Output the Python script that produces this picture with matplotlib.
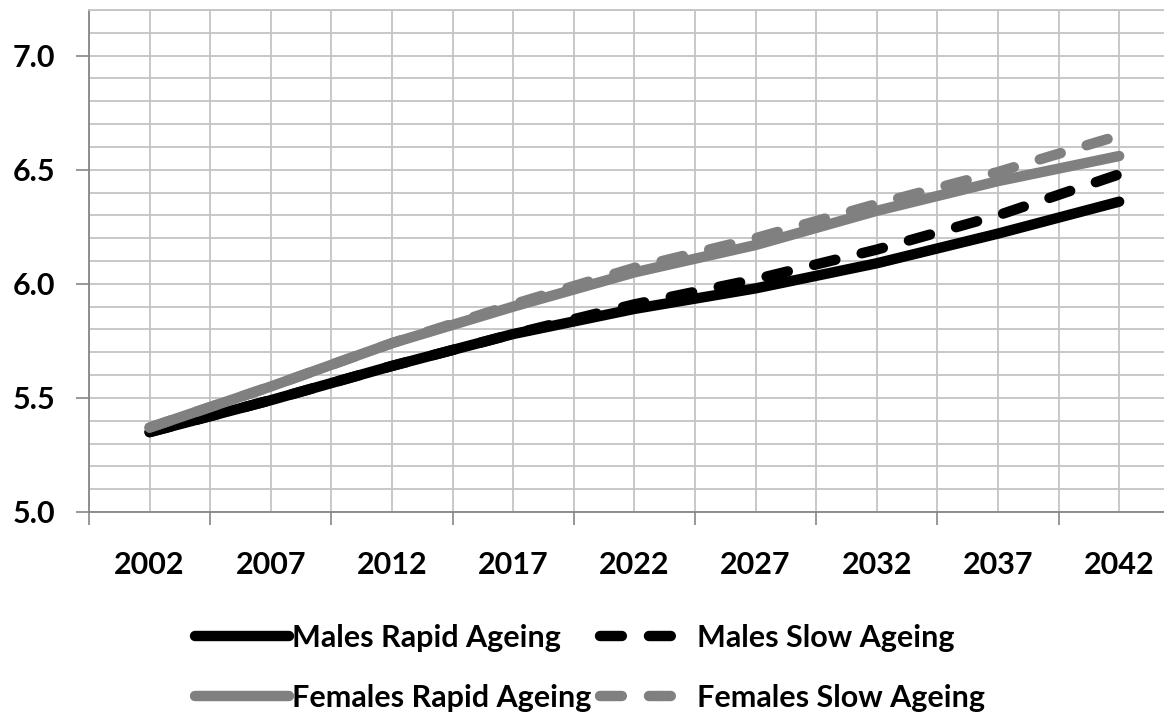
import numpy as np
import matplotlib.pyplot as plt
from matplotlib.ticker import FixedLocator, MultipleLocator

plt.rcParams['font.family'] = ['Lato', 'DejaVu Sans']

years = [2002, 2007, 2012, 2017, 2022, 2027, 2032, 2037, 2042]
year_labels = ["2002", "2007", "2012", "2017", "2022", "2027", "2032", "2037", "2042"]

males_rapid = [5.35, 5.49, 5.64, 5.78, 5.89, 5.98, 6.09, 6.22, 6.36]
males_slow = [5.35, 5.49, 5.64, 5.78, 5.91, 6.02, 6.15, 6.30, 6.48]
females_rapid = [5.37, 5.55, 5.74, 5.90, 6.05, 6.17, 6.32, 6.45, 6.56]
females_slow = [5.37, 5.55, 5.74, 5.91, 6.07, 6.20, 6.35, 6.49, 6.65]

W, H = 1164, 716
fig = plt.figure(figsize=(W / 100, H / 100), dpi=100)
ax = fig.add_axes([89 / W, (H - 512) / H, (W - 89) / W, 502 / H])

lw = 7.5
dash = (2.1, 2.6)
l1, = ax.plot(years, males_rapid, color="black", lw=lw, solid_capstyle="round", solid_joinstyle="round")
l2, = ax.plot(years, males_slow, color="black", lw=lw, dashes=dash, dash_capstyle="round")
l3, = ax.plot(years, females_rapid, color="#808080", lw=lw, solid_capstyle="round", solid_joinstyle="round")
l4, = ax.plot(years, females_slow, color="#808080", lw=lw, dashes=dash, dash_capstyle="round")

ax.set_xlim(1999.5, 2043.85)
ax.set_ylim(5.0, 7.2)

# x: tick marks between groups, labels centred on the years
ax.xaxis.set_major_locator(FixedLocator([1999.5 + 5 * k for k in range(9)]))
ax.xaxis.set_minor_locator(FixedLocator(years))
ax.set_xticklabels([], minor=False)
ax.set_xticklabels(year_labels, minor=True)
ax.tick_params(axis="x", which="major", length=9.4, width=1.2, color="#868686", direction="out")
ax.tick_params(axis="x", which="minor", length=0, pad=28, labelsize=22)

ax.yaxis.set_major_locator(MultipleLocator(0.5))
ax.yaxis.set_minor_locator(MultipleLocator(0.1))
ax.yaxis.set_major_formatter(plt.FormatStrFormatter("%.1f"))
ax.tick_params(axis="y", which="major", length=9.4, width=1.2, color="#868686", direction="out",
               pad=15, labelsize=22)
ax.tick_params(axis="y", which="minor", length=0)

for lab in ax.get_xticklabels(minor=True) + ax.get_yticklabels():
    lab.set_fontweight("bold")

ax.grid(True, which="both", color="#c4c4c4", lw=1.3)
ax.set_axisbelow(True)

ax.spines["right"].set_visible(False)
ax.spines["top"].set_color("#c4c4c4")
ax.spines["top"].set_linewidth(1.3)
for s in ["left", "bottom"]:
    ax.spines[s].set_color("#868686")
    ax.spines[s].set_linewidth(1.3)

leg = fig.legend([l1, l3, l2, l4],
                 ["Males Rapid Ageing", "Females Rapid Ageing", "Males Slow Ageing", "Females Slow Ageing"],
                 ncol=2, loc="center", bbox_to_anchor=(590 / W, 1 - 668 / H), frameon=False,
                 prop={"size": 22, "weight": "bold"}, handlelength=3.05, handletextpad=0.1,
                 columnspacing=0.3, labelspacing=1.05, borderpad=0)

fig.savefig("out.png", dpi=100)
